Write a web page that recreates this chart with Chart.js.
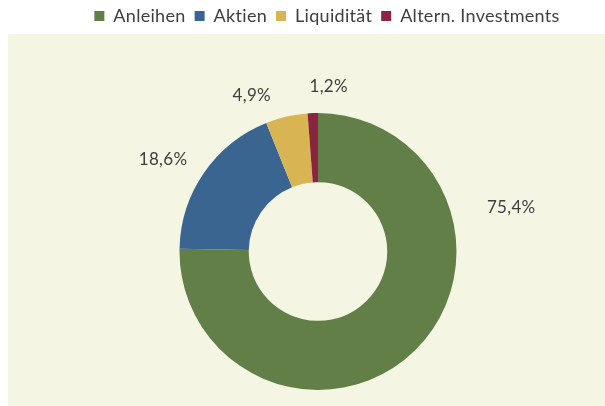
<!DOCTYPE html>
<html><head><meta charset="utf-8">
<script src="https://cdn.jsdelivr.net/npm/chart.js@4/dist/chart.umd.min.js"></script>
<style>html,body{margin:0;padding:0;background:#fff}#wrap{width:605px;height:406px;position:relative}</style>
</head><body><div id="wrap"><canvas id="c" width="605" height="406"></canvas></div>
<script>
const categories = ['Anleihen', 'Aktien', 'Liquidität', 'Altern. Investments'];
const shares = [75.4, 18.6, 4.9, 1.2];
const colors = ['#627f48', '#3a6591', '#d8b552', '#8a2540'];
// label placement (degrees clockwise from top, multiple of outer radius)
const labelAngleDeg = [77.3, 300.6, 337, 3.7];
const labelRadiusFactor = [1.43, 1.30, 1.224, 1.194];

const fmt = v => v.toFixed(1).replace('.', ',') + '%';
const TEXT = '#404040';

const panelPlugin = {
  id: 'panel',
  beforeDraw(chart) {
    const ctx = chart.ctx;
    ctx.letterSpacing = '0.3px';
    ctx.save();
    ctx.fillStyle = '#f5f5e4';
    ctx.fillRect(8, 34, chart.width - 8, chart.height - 34);
    ctx.restore();
  }
};

const legendFix = {
  id: 'legendFix',
  beforeUpdate(chart) {
    chart.ctx.letterSpacing = '0.3px';
    const lg = chart.legend;
    if (lg && !lg._patched) {
      const orig = lg.fit;
      lg.fit = function () { orig.call(this); this.height = 113; };
      lg._patched = true;
    }
  },
  afterLayout(chart) {
    const lg = chart.legend;
    lg.left += 9; lg.right += 9; lg.top -= 2;
  }
};

const valueLabelPlugin = {
  id: 'valueLabels',
  afterDatasetsDraw(chart) {
    const meta = chart.getDatasetMeta(0);
    const ctx = chart.ctx;
    ctx.save();
    ctx.font = '17px Lato';
    ctx.fillStyle = TEXT;
    ctx.textAlign = 'center';
    ctx.textBaseline = 'middle';
    meta.data.forEach((arc, i) => {
      const a = labelAngleDeg[i] * Math.PI / 180;
      const r = arc.outerRadius * labelRadiusFactor[i];
      ctx.fillText(fmt(shares[i]), arc.x + r * Math.sin(a), arc.y - r * Math.cos(a));
    });
    ctx.restore();
  }
};

Chart.defaults.font.family = 'Lato';
new Chart(document.getElementById('c'), {
  type: 'doughnut',
  data: {
    labels: categories,
    datasets: [{
      data: shares,
      backgroundColor: colors,
      borderWidth: 0
    }]
  },
  options: {
    responsive: false,
    animation: false,
    cutout: '50%',
    layout: { padding: { left: 31, right: 0, top: 0, bottom: 16 } },
    plugins: {
      tooltip: { enabled: false },
      legend: {
        position: 'top',
        labels: {
          color: TEXT,
          font: { family: 'Lato', size: 18 },
          boxWidth: 10,
          boxHeight: 10,
          padding: 9
        }
      }
    }
  },
  plugins: [panelPlugin, legendFix, valueLabelPlugin]
});
</script>
</body></html>
